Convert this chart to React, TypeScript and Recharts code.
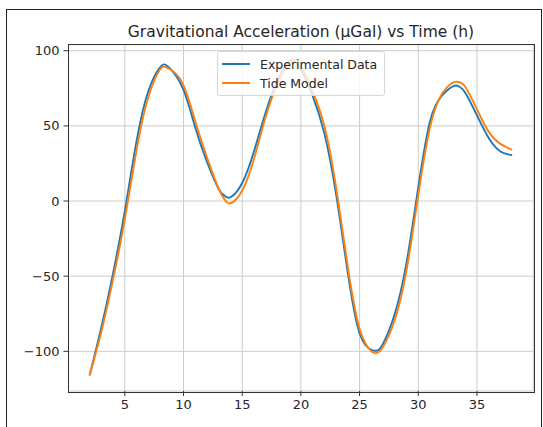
import React from 'react';
import { LineChart, Line, XAxis, YAxis, CartesianGrid } from 'recharts';

// time in hours, values in µGal
const hours = [2, 3, 4, 5, 6, 7, 8, 8.5, 9, 10, 11, 12, 13, 13.5, 14, 15, 16, 17, 18, 19, 19.5, 20, 21, 22, 23, 24, 25, 26, 26.5, 27, 28, 29, 30, 31, 32, 33, 33.5, 34, 35, 36, 37, 38];
const experimental = [-116, -84, -48, -6.5, 40, 73, 89, 90.5, 87, 74, 49, 26, 8, 3.5, 2.5, 12, 33, 59, 80, 93, 93, 88, 70, 45, 4.5, -48, -88, -99, -99.5, -95, -75, -41, 9, 53, 70, 76.5, 76, 72, 57, 42, 33, 30.5];
const tideModel = [-116, -87, -52, -12, 34, 69, 87.5, 89, 87, 77, 53, 29, 8, 1, -1.5, 7, 28, 56, 78, 92, 93, 90, 73, 50, 9, -44, -85, -100, -101, -97, -79, -46, 4, 49, 71, 79, 79, 76, 61, 46, 38, 34];

const xTicks = [5, 10, 15, 20, 25, 30, 35];
const yTicks = [-100, -50, 0, 50, 100];

const BLUE = '#1f77b4';
const ORANGE = '#ff7f0e';
const FONT = '"DejaVu Sans", sans-serif';

const data = hours.map((t, i) => ({ t, exp: experimental[i], tide: tideModel[i] }));

const fmt = (v: number) => (v < 0 ? '\u2212' + Math.abs(v) : String(v));

function LegendBox() {
  const items = [
    { name: 'Experimental Data', color: BLUE },
    { name: 'Tide Model', color: ORANGE },
  ];
  return (
    <div
      style={{
        position: 'absolute',
        left: 217,
        top: 51,
        width: 168,
        border: '1px solid #d6d6d6',
        borderRadius: 3,
        background: 'rgba(255,255,255,0.8)',
        padding: '3px 0 3px 4px',
        boxSizing: 'border-box',
        fontFamily: FONT,
        fontSize: 12.5,
        color: '#262626',
      }}
    >
      {items.map((it) => (
        <div key={it.name} style={{ display: 'flex', alignItems: 'center', height: 18.7 }}>
          <span style={{ display: 'inline-block', width: 28, height: 2, background: it.color, marginRight: 10 }} />
          <span>{it.name}</span>
        </div>
      ))}
    </div>
  );
}

export default function App() {
  return (
    <div style={{ position: 'absolute', left: 0, top: 0, width: 543, height: 427, overflow: 'hidden', background: '#fff' }}>
      <div style={{ position: 'absolute', left: 6, top: 9, width: 534, height: 440, border: '1px solid #222' }} />
      <div
        style={{
          position: 'absolute',
          left: 68,
          top: 23,
          width: 466,
          textAlign: 'center',
          fontFamily: FONT,
          fontSize: 15.5,
          lineHeight: '18px',
          color: '#262626',
        }}
      >
        Gravitational Acceleration (µGal) vs Time (h)
      </div>
      <div style={{ position: 'absolute', left: 0, top: 0 }}>
        <LineChart width={543} height={427} data={data} margin={{ top: 44.7, right: 9.7, bottom: 6, left: 8.5 }}>
          <CartesianGrid stroke="#cdcdcd" strokeWidth={1} />
          <XAxis
            dataKey="t"
            type="number"
            domain={[0.2, 39.8]}
            ticks={xTicks}
            allowDataOverflow
            height={30}
            tickSize={5}
            tickMargin={4}
            axisLine={false}
            tickLine={{ stroke: '#333' }}
            tick={{ fill: '#262626', fontSize: 13, fontFamily: FONT }}
          />
          <YAxis
            type="number"
            domain={[-126.4, 104]}
            ticks={yTicks}
            allowDataOverflow
            width={60}
            tickSize={5}
            tickMargin={4}
            axisLine={false}
            tickLine={{ stroke: '#333' }}
            tickFormatter={fmt}
            tick={{ fill: '#262626', fontSize: 13, fontFamily: FONT }}
          />
          <Line type="natural" dataKey="exp" name="Experimental Data" stroke={BLUE} strokeWidth={1.9} dot={false} isAnimationActive={false} />
          <Line type="natural" dataKey="tide" name="Tide Model" stroke={ORANGE} strokeWidth={1.9} dot={false} isAnimationActive={false} />
        </LineChart>
      </div>
      <LegendBox />
      <div
        style={{
          position: 'absolute',
          left: 68,
          top: 44,
          width: 465,
          height: 347,
          border: '1px solid #333',
          pointerEvents: 'none',
        }}
      />
    </div>
  );
}
